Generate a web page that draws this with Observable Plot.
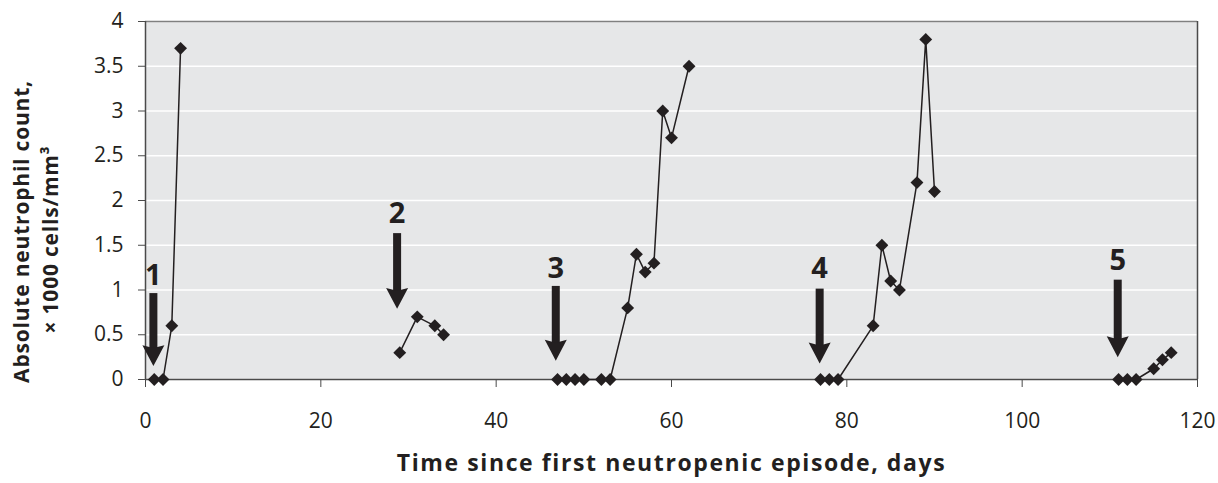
<!DOCTYPE html>
<html><head><meta charset="utf-8">
<script src="https://cdn.jsdelivr.net/npm/d3@7"></script>
<script src="https://cdn.jsdelivr.net/npm/@observablehq/plot@0.6"></script>
<style>
body{margin:0;background:#fff;} svg{display:block}
.xtitle text{letter-spacing:1.6px}
.ytitle text{letter-spacing:0.8px}
</style>
</head><body><div id="chart"></div>
<script>
const days    = [1,2,3,4, 29,31,33,34, 47,48,49,50,52,53,55,56,57,58,59,60,62, 77,78,79,83,84,85,86,88,89,90, 111,112,113,115,116,117];
const anc     = [0,0,0.6,3.7, 0.3,0.7,0.6,0.5, 0,0,0,0,0,0,0.8,1.4,1.2,1.3,3.0,2.7,3.5, 0,0,0,0.6,1.5,1.1,1.0,2.2,3.8,2.1, 0,0,0,0.12,0.22,0.3];
const episode = [1,1,1,1, 2,2,2,2, 3,3,3,3,3,3,3,3,3,3,3,3,3, 4,4,4,4,4,4,4,4,4,4, 5,5,5,5,5,5];

const arrowDay   = [0.9, 28.7, 46.8, 76.9, 110.9];
const arrowTop   = [0.96, 1.63, 1.04, 1.01, 1.11];
const arrowTip   = [0.15, 0.79, 0.21, 0.18, 0.25];
const arrowLabel = ["1","2","3","4","5"];
const labelY     = [1.16, 1.85, 1.24, 1.24, 1.33];

const xTicks = [0,20,40,60,80,100,120];
const yTicks = [0,0.5,1,1.5,2,2.5,3,3.5,4];

const xTitle = "Time since first neutropenic episode, days";
const yTitle1 = "Absolute neutrophil count,";
const yTitle2 = "× 1000 cells/mm³";

const points = days.map((d,i) => ({day:d, anc:anc[i], ep:episode[i]}));
const arrows = arrowDay.map((d,i) => ({day:d, top:arrowTop[i], tip:arrowTip[i], label:arrowLabel[i], ly:labelY[i]}));

const ink = "#231f20";
const head = {
  draw(context, size) {
    const r = Math.sqrt(size / Math.PI);
    const w = r, h = r * 1.9;
    context.moveTo(0, 0);
    context.lineTo(-w, -h);
    context.lineTo(0, -h * 0.86);
    context.lineTo(w, -h);
    context.closePath();
  }
};

const chart = Plot.plot({
  width: 1218,
  height: 483,
  marginLeft: 145,
  marginRight: 21,
  marginTop: 21,
  marginBottom: 104,
  style: {fontFamily: "'Open Sans', sans-serif", fontSize: "21px", color: ink, background: "#fff"},
  x: {domain: [0,120]},
  y: {domain: [0,4]},
  marks: [
    Plot.frame({fill: "#e6e7e8", stroke: null}),
    Plot.gridY(yTicks, {stroke: "#ffffff", strokeOpacity: 1, strokeWidth: 1.6}),
    Plot.ruleY([4], {stroke: "#808080", strokeWidth: 1.5}),
    Plot.ruleX([120], {stroke: "#4a4a4a", strokeWidth: 1.5}),
    Plot.axisY({ticks: yTicks, tickFormat: d => String(d), tickSize: 7, tickPadding: 15, label: null, stroke: "#4a4a4a", fill: ink}),
    Plot.axisX({ticks: xTicks, tickFormat: d => String(d), tickSize: 8, tickPadding: 26, label: null, stroke: "#4a4a4a", fill: ink}),
    Plot.ruleX([0], {stroke: "#4a4a4a", strokeWidth: 1.5}),
    Plot.ruleY([0], {stroke: "#4a4a4a", strokeWidth: 1.5}),
    Plot.line(points, {x: "day", y: "anc", z: "ep", stroke: ink, strokeWidth: 1.5}),
    Plot.dot(points, {x: "day", y: "anc", symbol: "diamond2", r: 5.8, fill: ink, stroke: null}),
    Plot.ruleX(arrows, {x: "day", y1: "top", y2: "tip", stroke: ink, strokeWidth: 8, insetBottom: 14}),
    Plot.dot(arrows, {x: "day", y: "tip", symbol: head, r: 11, fill: ink, stroke: null}),
    Plot.text(arrows, {x: "day", y: "ly", text: "label", fontSize: 29, fontWeight: "bold", fill: ink}),
    Plot.text([xTitle], {className: "xtitle", frameAnchor: "bottom", dy: 91, textAnchor: "middle", fontSize: 23, fontWeight: "bold", fill: ink}),
    Plot.text([yTitle1], {className: "ytitle", frameAnchor: "left", textAnchor: "middle", dx: -123, dy: 31, rotate: -90, fontSize: 21, fontWeight: "bold", fill: ink}),
    Plot.text([yTitle2], {className: "ytitle", frameAnchor: "left", textAnchor: "middle", dx: -94, dy: 39, rotate: -90, fontSize: 21, fontWeight: "bold", fill: ink})
  ]
});
document.getElementById("chart").appendChild(chart);
</script>
</body></html>
